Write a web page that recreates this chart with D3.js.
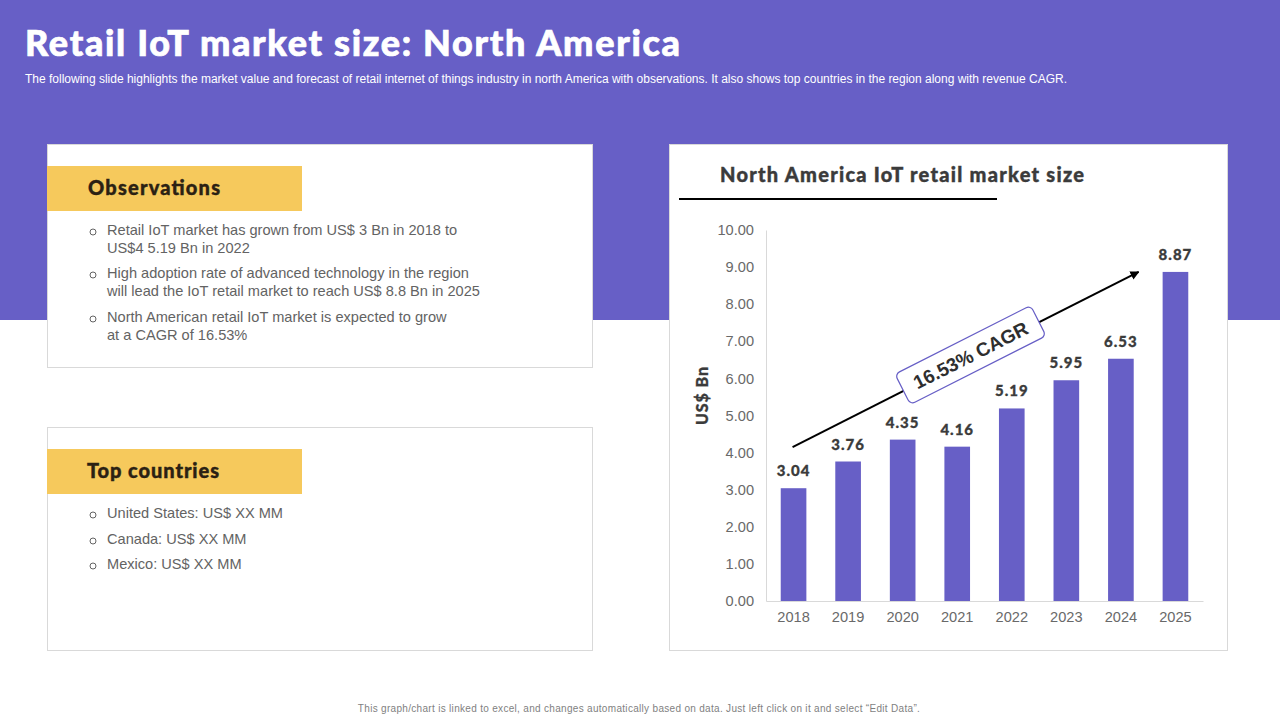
<!DOCTYPE html>
<html>
<head>
<meta charset="utf-8">
<script src="https://cdn.jsdelivr.net/npm/d3@7"></script>
<style>
  html, body { margin: 0; padding: 0; background: #fff; }
  svg { display: block; }
  .body { font-family: "Liberation Sans", Arial, sans-serif; font-size: 14.6px; fill: #636363; }
  .head { font-family: Lato, sans-serif; font-weight: 900; }
  .tick text { font-family: "Liberation Sans", Arial, sans-serif; font-size: 14.6px; fill: #696969; }
</style>
</head>
<body>
<svg id="chart" width="1280" height="720"></svg>
<script>
// values
var years = ["2018", "2019", "2020", "2021", "2022", "2023", "2024", "2025"];
var marketSize = [3.04, 3.76, 4.35, 4.16, 5.19, 5.95, 6.53, 8.87];
var yTicks = [0, 1, 2, 3, 4, 5, 6, 7, 8, 9, 10];
var cagrStart = 4.15;
var cagrEnd = 8.87;

var titleText = "Retail IoT market size: North America";
var subtitleText = "The following slide highlights the market value and forecast of retail internet of things industry in north America with observations. It also shows top countries in the region along with revenue CAGR.";
var observations = [
    ["Retail IoT market has grown from US$ 3 Bn in 2018 to", "US$4 5.19 Bn in 2022"],
    ["High adoption rate of advanced technology in the region", "will lead the IoT retail market to reach US$ 8.8 Bn in 2025"],
    ["North American retail IoT market is expected to grow", "at a CAGR of 16.53%"]
];
var countries = ["United States: US$ XX MM", "Canada: US$ XX MM", "Mexico: US$ XX MM"];
var footText = "This graph/chart is linked to excel, and changes automatically based on data. Just left click on it and select \u201cEdit Data\u201d.";

var purple = "#675fc6";
var yellow = "#f6c95c";

var svg = d3.select("#chart");

// backdrop
svg.append("rect").attr("width", 1280).attr("height", 320).attr("fill", purple);

svg.append("text").attr("class", "head")
    .attr("x", 25).attr("y", 56)
    .attr("font-size", 36).attr("fill", "#fff")
    .attr("stroke", "#fff").attr("stroke-width", 0.7)
    .attr("textLength", 655).attr("lengthAdjust", "spacing")
    .text(titleText);

svg.append("text")
    .attr("x", 25).attr("y", 83)
    .attr("font-family", "Liberation Sans, Arial, sans-serif")
    .attr("font-size", 12).attr("fill", "#fff")
    .attr("textLength", 1042).attr("lengthAdjust", "spacing")
    .text(subtitleText);

// cards
var cards = [
    {x: 47, y: 144, w: 545, h: 223},
    {x: 47, y: 427, w: 545, h: 223},
    {x: 669, y: 144, w: 558, h: 506}
];
svg.selectAll("rect.card").data(cards).enter().append("rect")
    .attr("class", "card")
    .attr("x", function(d) { return d.x + 0.5; })
    .attr("y", function(d) { return d.y + 0.5; })
    .attr("width", function(d) { return d.w; })
    .attr("height", function(d) { return d.h; })
    .attr("fill", "#fff")
    .attr("stroke", "#d9d9d9");

// yellow header tabs
var tabs = [
    {y: 166, label: "Observations", tx: 88, ty: 195},
    {y: 449, label: "Top countries", tx: 87, ty: 478}
];
svg.selectAll("rect.tab").data(tabs).enter().append("rect")
    .attr("class", "tab")
    .attr("x", 47).attr("y", function(d) { return d.y; })
    .attr("width", 255).attr("height", 45)
    .attr("fill", yellow);
svg.selectAll("text.tabLabel").data(tabs).enter().append("text")
    .attr("class", "tabLabel head")
    .attr("x", function(d) { return d.tx; })
    .attr("y", function(d) { return d.ty; })
    .attr("font-size", 20).attr("fill", "#2b2113")
    .attr("stroke", "#2b2113").attr("stroke-width", 0.4)
    .attr("textLength", 132).attr("lengthAdjust", "spacing")
    .text(function(d) { return d.label; });

function bullet(y) {
    svg.append("circle")
        .attr("cx", 93).attr("cy", y)
        .attr("r", 3).attr("fill", "none")
        .attr("stroke", "#636363");
}

function bodyLine(text, y) {
    svg.append("text").attr("class", "body")
        .attr("x", 107).attr("y", y).text(text);
}

var obsY = [235, 278, 322];
observations.forEach(function(lines, i) {
    bullet(obsY[i] - 3);
    lines.forEach(function(line, j) {
        bodyLine(line, obsY[i] + j * 18);
    });
});

var countryY = [518, 544, 569];
countries.forEach(function(c, i) {
    bullet(countryY[i] - 3);
    bodyLine(c, countryY[i]);
});

// chart card
svg.append("text").attr("class", "head")
    .attr("x", 720).attr("y", 182)
    .attr("font-size", 20).attr("fill", "#3b3b3b")
    .attr("stroke", "#3b3b3b").attr("stroke-width", 0.4)
    .attr("textLength", 364).attr("lengthAdjust", "spacing")
    .text("North America IoT retail market size");

svg.append("line")
    .attr("x1", 679).attr("x2", 997)
    .attr("y1", 199).attr("y2", 199)
    .attr("stroke", "#000").attr("stroke-width", 2);

var x = d3.scaleBand().domain(years).range([766, 1203]).paddingInner(0.53).paddingOuter(0.27);
var y = d3.scaleLinear().domain([0, 10]).range([601, 230]);

var yAxis = d3.axisLeft(y).tickValues(yTicks).tickSize(0).tickPadding(12)
    .tickFormat(d3.format(".2f"));
var xAxis = d3.axisBottom(x).tickSize(0).tickPadding(11);

var gy = svg.append("g").attr("transform", "translate(766,0)").call(yAxis);
var gx = svg.append("g").attr("transform", "translate(0,601)").call(xAxis);
gy.select(".domain").attr("stroke", "#d9d9d9");
gx.select(".domain").attr("stroke", "#d9d9d9");

svg.selectAll("rect.bar").data(marketSize).enter().append("rect")
    .attr("class", "bar")
    .attr("x", function(d, i) { return x(years[i]); })
    .attr("y", function(d) { return y(d); })
    .attr("width", x.bandwidth())
    .attr("height", function(d) { return y(0) - y(d); })
    .attr("fill", purple);

svg.selectAll("text.val").data(marketSize).enter().append("text")
    .attr("class", "val head")
    .attr("x", function(d, i) { return x(years[i]) + x.bandwidth() / 2; })
    .attr("y", function(d) { return y(d) - 12; })
    .attr("text-anchor", "middle")
    .attr("font-size", 15).attr("letter-spacing", 1).attr("fill", "#3b3b3b")
    .attr("stroke", "#3b3b3b").attr("stroke-width", 0.3)
    .text(function(d) { return d.toFixed(2); });

svg.append("text").attr("class", "head")
    .attr("transform", "translate(708,396) rotate(-90)")
    .attr("text-anchor", "middle")
    .attr("font-size", 16).attr("fill", "#3b3b3b")
    .attr("stroke", "#3b3b3b").attr("stroke-width", 0.3)
    .attr("textLength", 58).attr("lengthAdjust", "spacing")
    .text("US$ Bn");

// CAGR arrow, tied to the scales
svg.append("defs").append("marker")
    .attr("id", "head").attr("viewBox", "0 0 10 10")
    .attr("refX", 9).attr("refY", 5)
    .attr("markerWidth", 4.5).attr("markerHeight", 4.5)
    .attr("orient", "auto")
    .append("path").attr("d", "M0,0L10,5L0,10z").attr("fill", "#000");

var ax1 = x("2018") + x.bandwidth() / 2 - 1;
var ay1 = y(cagrStart);
var ax2 = x("2025") - 24;
var ay2 = y(cagrEnd);
svg.append("line")
    .attr("x1", ax1).attr("y1", ay1)
    .attr("x2", ax2).attr("y2", ay2)
    .attr("stroke", "#000").attr("stroke-width", 2)
    .attr("marker-end", "url(#head)");

var angle = Math.atan2(ay2 - ay1, ax2 - ax1) * 180 / Math.PI;
var label = svg.append("g")
    .attr("transform", "translate(970.5,355) rotate(" + angle + ")");
label.append("rect")
    .attr("x", -76).attr("y", -17)
    .attr("width", 152).attr("height", 34).attr("rx", 5)
    .attr("fill", "#fff").attr("stroke", purple).attr("stroke-width", 1.2);
label.append("text")
    .attr("text-anchor", "middle").attr("y", 7)
    .attr("font-family", "Liberation Sans, Arial, sans-serif")
    .attr("font-weight", 700).attr("font-size", 19).attr("fill", "#2e2e2e")
    .text("16.53% CAGR");

svg.append("text")
    .attr("x", 639).attr("y", 712)
    .attr("text-anchor", "middle")
    .attr("font-family", "Liberation Sans, Arial, sans-serif")
    .attr("font-size", 10).attr("fill", "#7f7f7f")
    .attr("letter-spacing", 0.31)
    .text(footText);
</script>
</body>
</html>
